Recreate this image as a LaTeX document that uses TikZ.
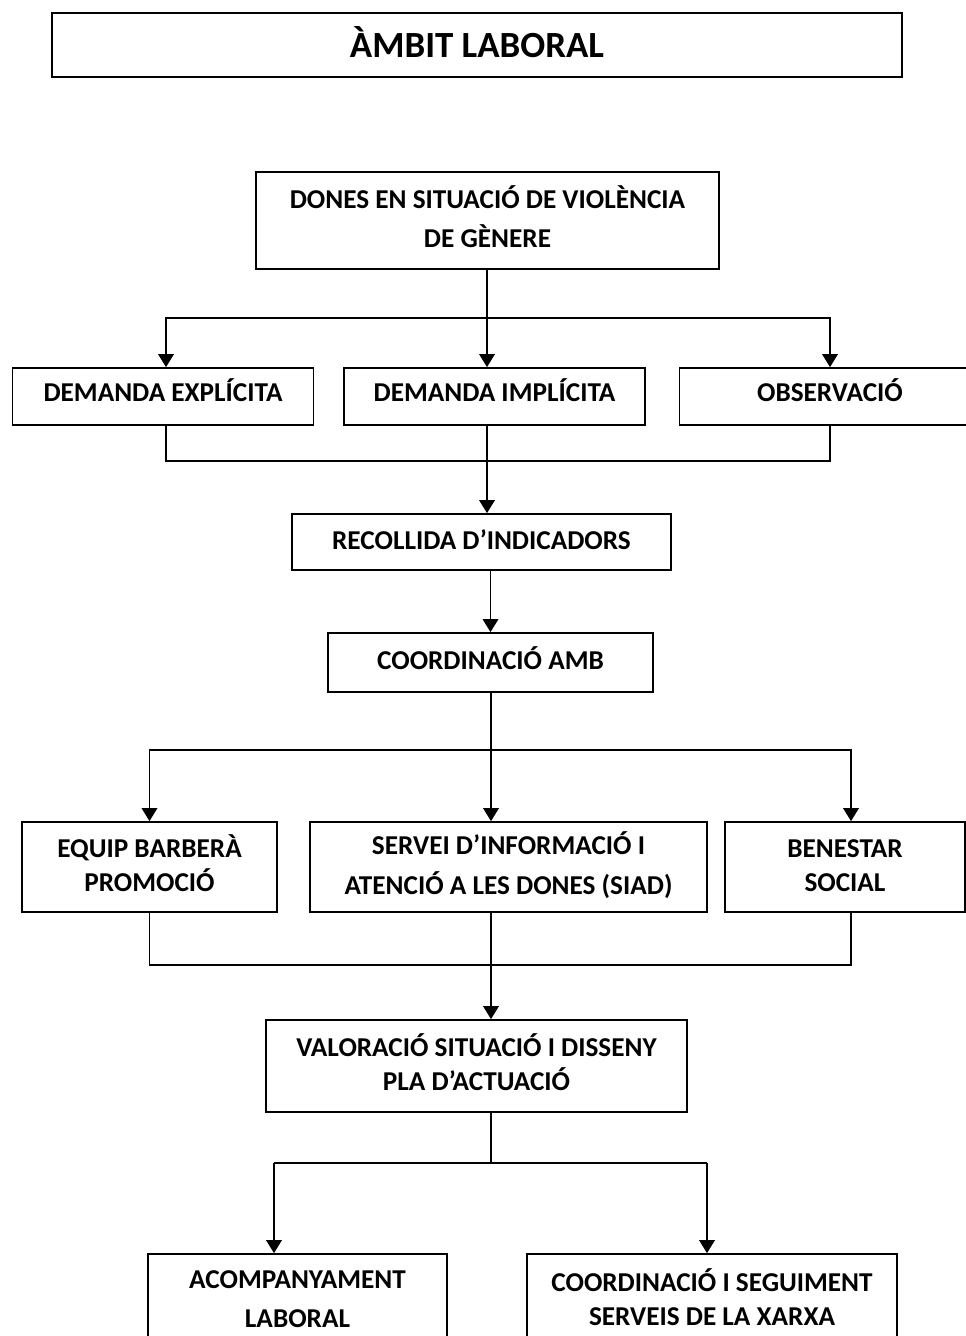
\documentclass[tikz,border=0pt]{standalone}
\usepackage{fontspec}
\setmainfont{Carlito}
\usepackage{tikz}
\usetikzlibrary{arrows.meta, positioning}
\tikzstyle{stepbox} = [rectangle, draw, line width=1pt, align=center, text depth=4.5pt,
                       inner sep=0pt, font=\fontsize{15.5}{19.3}\selectfont\bfseries]
\tikzstyle{titlebox} = [rectangle, draw, line width=1.2pt, align=center, text depth=3pt,
                        inner sep=0pt, font=\fontsize{21}{24}\selectfont\bfseries]
\tikzstyle{line}    = [line width=1pt]
\tikzstyle{arrow}   = [-{Triangle[length=2.6mm, width=3.1mm]}, line width=1pt]

\begin{document}
\begin{tikzpicture}[x=0.02cm, y=-0.02cm]
  \useasboundingbox (0,0) rectangle (965,1336);

  \node[titlebox, minimum width=17cm, minimum height=1.28cm] (title) at (477,45) {ÀMBIT LABORAL};

  \node[stepbox, minimum width=9.26cm, minimum height=1.94cm] (dones) at (487.5,220.5)
    {DONES EN SITUACIÓ DE VIOLÈNCIA\\[3pt] DE GÈNERE};

  \node[stepbox, text depth=7pt, minimum width=6.02cm, minimum height=1.14cm] (dexp) at (163,396.5) {DEMANDA EXPLÍCITA};
  \node[stepbox, text depth=7pt, minimum width=6.02cm, minimum height=1.14cm] (dimp) at (494.5,396.5) {DEMANDA IMPLÍCITA};
  \node[stepbox, text depth=7pt, minimum width=6.02cm, minimum height=1.14cm] (obs) at (830,396.5) {OBSERVACIÓ};

  \node[stepbox, text depth=2.5pt, minimum width=7.58cm, minimum height=1.12cm] (recoll) at (481.5,542) {RECOLLIDA D’INDICADORS};
  \node[stepbox, minimum width=6.5cm, minimum height=1.18cm] (amb) at (490.5,662.5) {COORDINACIÓ AMB};

  \node[stepbox, minimum width=5.1cm, minimum height=1.8cm] (equip) at (149.5,867) {EQUIP BARBERÀ\\ PROMOCIÓ};
  \node[stepbox, minimum width=7.94cm, minimum height=1.8cm] (siad) at (508.5,867)
    {SERVEI D’INFORMACIÓ I\\[3.5pt] ATENCIÓ A LES DONES (SIAD)};
  \node[stepbox, text depth=2pt, minimum width=4.8cm, minimum height=1.8cm] (benestar) at (845,867) {BENESTAR\\ SOCIAL};

  \node[stepbox, minimum width=8.42cm, minimum height=1.84cm] (valor) at (476.5,1066)
    {VALORACIÓ SITUACIÓ I DISSENY\\ PLA D’ACTUACIÓ};

  \node[stepbox, text depth=1pt, minimum width=5.98cm, minimum height=1.84cm] (acomp) at (297.5,1300)
    {ACOMPANYAMENT\\[3pt] LABORAL};
  \node[stepbox, text depth=1pt, minimum width=7.4cm, minimum height=1.74cm] (segui) at (712,1297.5)
    {COORDINACIÓ I SEGUIMENT\\ SERVEIS DE LA XARXA};

  % junctions
  \coordinate (split1) at (487,318);
  \coordinate (join1) at (487,461);
  \coordinate (split2) at (491,750);
  \coordinate (join2) at (491,965);
  \coordinate (branchL) at (274,1163);
  \coordinate (branchR) at (707,1163);

  \draw[line] (dones.south -| split1) -- (split1);
  \draw[arrow] (split1) -- (split1 |- dimp.north);
  \draw[arrow] (split1) -| ([xshift=0.06cm]dexp.north);
  \draw[arrow] (split1) -| (obs.north);

  \draw[line] ([xshift=0.06cm]dexp.south) |- (join1);
  \draw[line] (obs.south) |- (join1);
  \draw[arrow] (join1 |- dimp.south) -- (join1 |- recoll.north);

  \draw[arrow] (amb.north |- recoll.south) -- (amb.north);

  \draw[line] (amb.south -| split2) -- (split2);
  \draw[arrow] (split2) -- (split2 |- siad.north);
  \draw[arrow] (split2) -| (equip.north);
  \draw[arrow] (split2) -| ([xshift=0.12cm]benestar.north);

  \draw[line] (equip.south) |- (join2);
  \draw[line] ([xshift=0.12cm]benestar.south) |- (join2);
  \draw[arrow] (join2 |- siad.south) -- (join2 |- valor.north);

  \draw[line] (join2 |- valor.south) -- (join2 |- branchL);
  \draw[line] (branchL) -- (branchR);
  \draw[arrow] (branchL) -- (branchL |- acomp.north);
  \draw[arrow] (branchR) -- (branchR |- segui.north);
\end{tikzpicture}
\end{document}
